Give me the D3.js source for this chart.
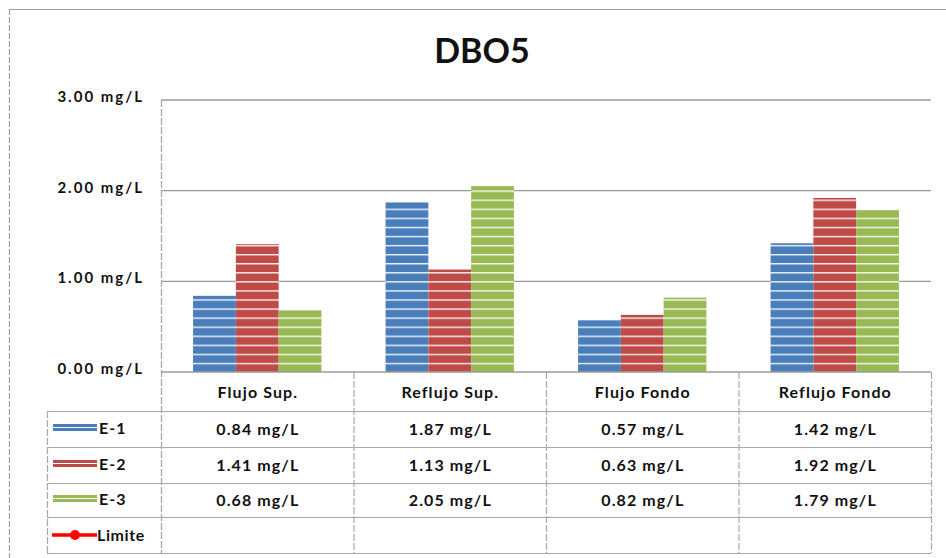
<!DOCTYPE html>
<html><head><meta charset="utf-8">
<script src="https://cdn.jsdelivr.net/npm/d3@7/dist/d3.min.js"></script>
<style>body{margin:0;background:#fff}svg{display:block}text{font-family:Lato,"Open Sans",sans-serif;fill:#111}</style>
</head><body><svg id="c" width="946" height="558"></svg>
<script>
const categories = ["Flujo Sup.", "Reflujo Sup.", "Flujo Fondo", "Reflujo Fondo"];
const seriesNames = ["E-1", "E-2", "E-3"];
const e1 = [0.84, 1.87, 0.57, 1.42];
const e2 = [1.41, 1.13, 0.63, 1.92];
const e3 = [0.68, 2.05, 0.82, 1.79];
const limite = [null, null, null, null];
const yTicks = [0, 1, 2, 3];
const colors = ["#4a7ebb", "#be4b48", "#98b954"];
const title = "DBO5";

const svg = d3.select("#c");
const L = 161, R = 931, T = 100, B = 372;
const x = d3.scaleBand().domain(categories).range([L, R]).paddingInner(0).paddingOuter(0);
const y = d3.scaleLinear().domain([0, 3]).range([B, T]);
const xs = d3.scaleBand().domain(seriesNames).range([0, x.bandwidth()]).paddingOuter(0.75).paddingInner(0);
const fmt = v => v.toFixed(2) + " mg/L";
const FS = 16, LS = 1.1;

// outer frame
svg.append("line").attr("x1", 9).attr("x2", 946).attr("y1", 9.5).attr("y2", 9.5).attr("stroke", "#a0a0a0").attr("stroke-width", 1.2);
svg.append("line").attr("x1", 9.5).attr("x2", 9.5).attr("y1", 9).attr("y2", 558).attr("stroke", "#a0a0a0").attr("stroke-width", 1.2).attr("stroke-dasharray", "6,2");

// title
svg.append("text").attr("x", 482).attr("y", 63).attr("text-anchor", "middle").attr("font-size", 34).attr("font-weight", 700).text(title);

// patterns
const defs = svg.append("defs");
colors.forEach((c, i) => {
  const p = defs.append("pattern").attr("id", "p" + i).attr("patternUnits", "userSpaceOnUse").attr("width", 10).attr("height", 9.07).attr("y", 0);
  p.append("rect").attr("width", 10).attr("height", 9.07).attr("fill", c);
  p.append("rect").attr("y", 0).attr("width", 10).attr("height", 1.4).attr("fill", "#fff").attr("opacity", 0.9);
});

// gridlines
svg.append("g").selectAll("line").data(yTicks.filter(d => d > 0)).join("line")
  .attr("x1", L).attr("x2", R).attr("y1", d => y(d)).attr("y2", d => y(d))
  .attr("stroke", "#9a9a9a").attr("stroke-width", 1.3);

// y axis labels
const yAxis = d3.axisLeft(y).tickValues(yTicks).tickFormat(fmt).tickSize(0).tickPadding(17);
const ga = svg.append("g").attr("transform", `translate(${L},0)`).call(yAxis);
ga.select(".domain").remove();
ga.selectAll("text").attr("font-size", 15).attr("font-weight", 700).attr("letter-spacing", 2).style("font-family", "Lato,sans-serif").attr("fill", "#111").attr("dy", "0.1em");

// y axis line
svg.append("line").attr("x1", L + 0.5).attr("x2", L + 0.5).attr("y1", T).attr("y2", 553).attr("stroke", "#a8a8a8").attr("stroke-width", 1.3).attr("stroke-dasharray", "7,2");

// bars
const seriesData = [e1, e2, e3];
seriesData.forEach((vals, si) => {
  svg.append("g").selectAll("rect").data(vals).join("rect")
    .attr("x", (d, i) => x(categories[i]) + xs(seriesNames[si]))
    .attr("width", xs.bandwidth())
    .attr("y", d => y(d)).attr("height", d => B - y(d))
    .attr("fill", `url(#p${si})`);
});

// table
const rowsY = [372, 411, 447, 483, 517, 553];
const tL = 47;
svg.append("line").attr("x1", L).attr("x2", R).attr("y1", B).attr("y2", B).attr("stroke", "#9a9a9a").attr("stroke-width", 1.5);
rowsY.slice(1).forEach(yy => {
  svg.append("line").attr("x1", tL).attr("x2", R).attr("y1", yy + 0.5).attr("y2", yy + 0.5).attr("stroke", "#a8a8a8").attr("stroke-width", 1.2);
});
categories.forEach((c, i) => {
  if (i === 0) return;
  svg.append("line").attr("x1", x(c) + 0.5).attr("x2", x(c) + 0.5).attr("y1", B).attr("y2", 553).attr("stroke", "#a8a8a8").attr("stroke-width", 1.2).attr("stroke-dasharray", "7,2");
});
svg.append("line").attr("x1", R + 0.5).attr("x2", R + 0.5).attr("y1", B).attr("y2", 553).attr("stroke", "#a8a8a8").attr("stroke-width", 1.2).attr("stroke-dasharray", "7,2");
svg.append("line").attr("x1", tL + 0.5).attr("x2", tL + 0.5).attr("y1", 411).attr("y2", 553).attr("stroke", "#a8a8a8").attr("stroke-width", 1.2).attr("stroke-dasharray", "7,2");

// header
svg.append("g").selectAll("text").data(categories).join("text")
  .attr("x", d => x(d) + x.bandwidth() / 2 + LS / 2).attr("y", (rowsY[0] + rowsY[1]) / 2 + 6)
  .attr("text-anchor", "middle").attr("font-size", FS).attr("letter-spacing", LS).attr("font-weight", 700).text(d => d);

// values
seriesData.forEach((vals, si) => {
  const cy = (rowsY[si + 1] + rowsY[si + 2]) / 2 + 6;
  svg.append("g").selectAll("text").data(vals).join("text")
    .attr("x", (d, i) => x(categories[i]) + x.bandwidth() / 2 + LS / 2).attr("y", cy)
    .attr("text-anchor", "middle").attr("font-size", FS).attr("letter-spacing", LS).attr("font-weight", 700).text(d => fmt(d));
  const ky = (rowsY[si + 1] + rowsY[si + 2]) / 2;
  svg.append("rect").attr("x", 53).attr("y", ky - 5).attr("width", 44).attr("height", 3).attr("fill", colors[si]);
  svg.append("rect").attr("x", 53).attr("y", ky - 1).attr("width", 44).attr("height", 3).attr("fill", colors[si]);
  svg.append("text").attr("x", 99).attr("y", ky + 5).attr("font-size", FS).attr("letter-spacing", LS).attr("font-weight", 700).text(seriesNames[si]);
});
// Limite legend
const ly = (rowsY[4] + rowsY[5]) / 2;
svg.append("line").attr("x1", 52).attr("x2", 97).attr("y1", ly).attr("y2", ly).attr("stroke", "#ff0000").attr("stroke-width", 3.5);
svg.append("circle").attr("cx", 75).attr("cy", ly).attr("r", 5).attr("fill", "#ff0000");
svg.append("text").attr("x", 97).attr("y", ly + 6).attr("font-size", FS).attr("letter-spacing", 0.6).attr("font-weight", 700).text("Limite");
</script></body></html>
